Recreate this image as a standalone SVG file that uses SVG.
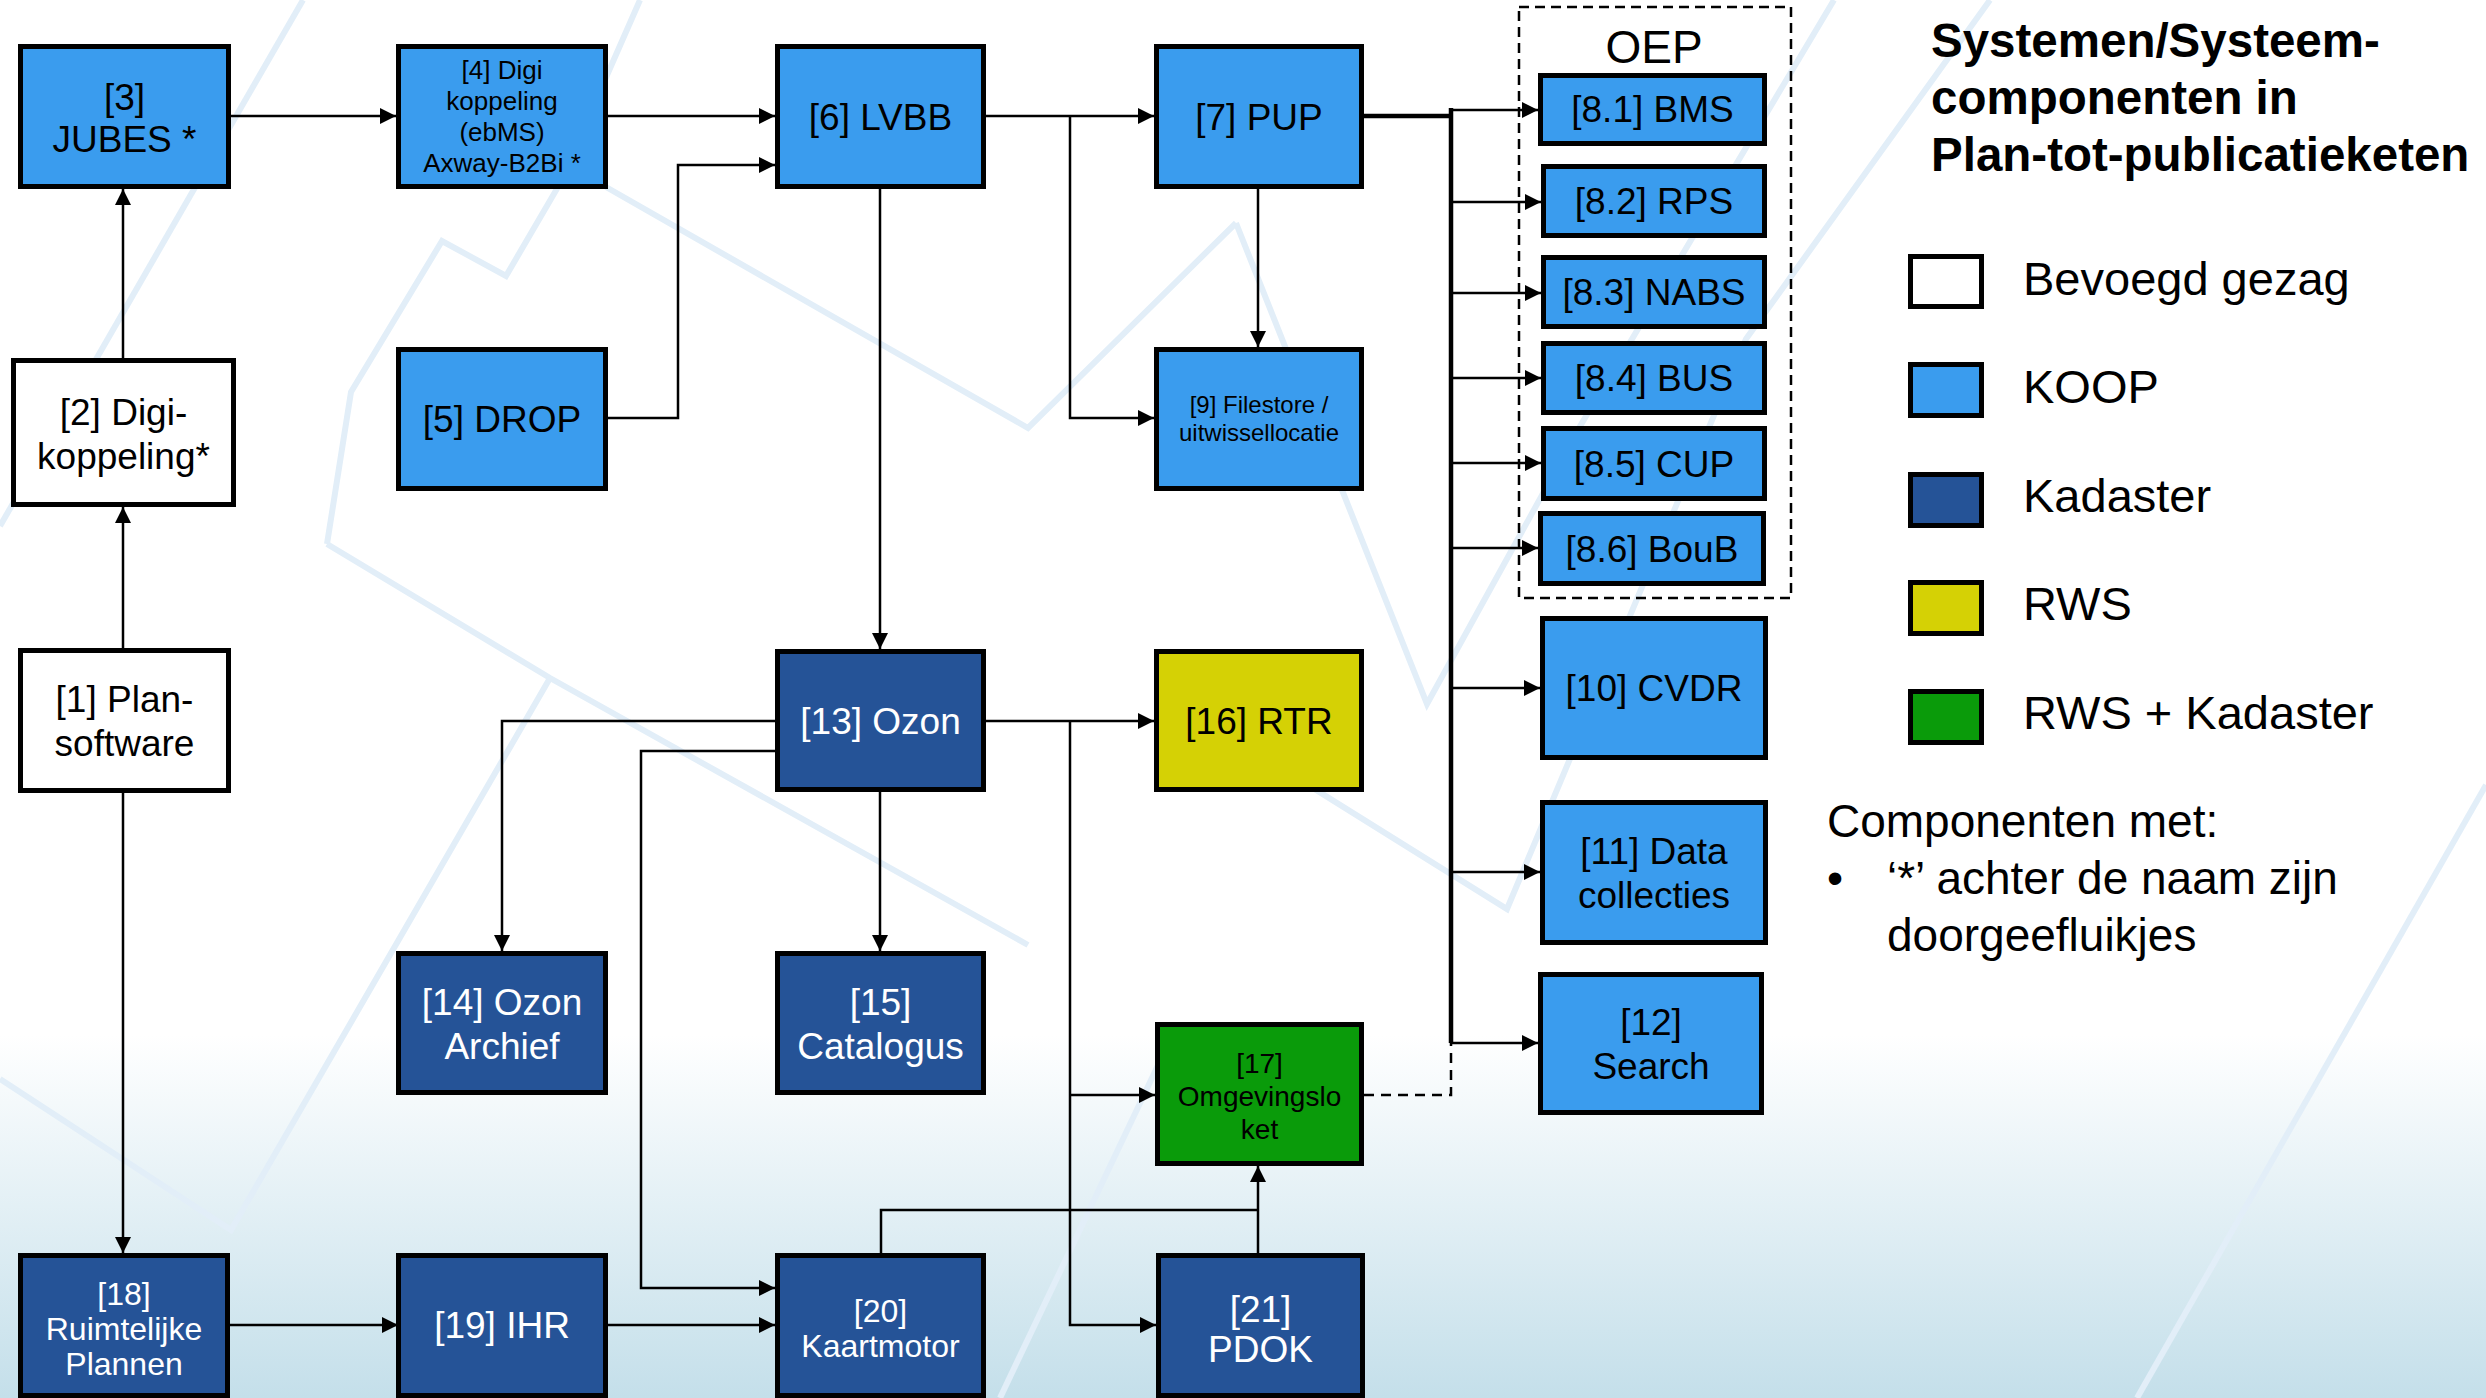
<svg xmlns="http://www.w3.org/2000/svg" width="2486" height="1398" viewBox="0 0 2486 1398">
<defs>
<linearGradient id="bg" x1="0" y1="0" x2="0" y2="1398" gradientUnits="userSpaceOnUse">
<stop offset="0" stop-color="#ffffff"/>
<stop offset="0.74" stop-color="#ffffff"/>
<stop offset="1" stop-color="#c4dfea"/>
</linearGradient>
<marker id="arr" markerUnits="userSpaceOnUse" markerWidth="16" markerHeight="16" viewBox="0 0 16 16" refX="16" refY="8" orient="auto">
<path d="M0,0 L16,8 L0,16 z" fill="#000"/>
</marker>
</defs>
<style>
.box{stroke:#000;stroke-width:5}
.w{fill:#ffffff}
.koop{fill:#3a9cee}
.kad{fill:#255397}
.rws{fill:#d5d105}
.grn{fill:#0a9b0a}
text{font-family:"Liberation Sans",Arial,sans-serif;text-anchor:middle}
.t37{font-size:37px}
.dk{fill:#000}
.lt{fill:#ffffff}
.c{fill:none;stroke:#000;stroke-width:2.5}
.bus{fill:none;stroke:#000;stroke-width:4.5}
.deco{fill:none;stroke:#e2eef8;stroke-width:6;stroke-linejoin:miter}
.leg{font-size:47px;text-anchor:start;fill:#000}
</style>
<rect x="0" y="0" width="2486" height="1398" fill="url(#bg)"/>
<g id="background-lines">
<polyline class="deco" points="303,0 0,526"/>
<polyline class="deco" points="327,544 351,392 442,241 506,276 558,187 640,0"/>
<polyline class="deco" points="606,187 1028,428 1236,223"/>
<polyline class="deco" points="327,544 550,678 1028,945"/>
<polyline class="deco" points="0,1079 231,1230 550,678"/>
<polyline class="deco" points="1236,223 1427,704 1579,428 1834,0"/>
<polyline class="deco" points="1236,740 1507,909 1746,339 1990,0"/>
<polyline class="deco" points="2486,785 2137,1398"/>
<polyline class="deco" points="1170,1040 1000,1398"/>
</g>
<g id="connectors">
<polyline class="c" points="123,358 123,189" marker-end="url(#arr)"/>
<polyline class="c" points="123,648 123,507" marker-end="url(#arr)"/>
<polyline class="c" points="123,793 123,1253" marker-end="url(#arr)"/>
<polyline class="c" points="231,116 396,116" marker-end="url(#arr)"/>
<polyline class="c" points="608,116 775,116" marker-end="url(#arr)"/>
<polyline class="c" points="608,418 678,418 678,165 775,165" marker-end="url(#arr)"/>
<polyline class="c" points="986,116 1154,116" marker-end="url(#arr)"/>
<polyline class="c" points="1070,116 1070,418 1154,418" marker-end="url(#arr)"/>
<polyline class="c" points="1258,189 1258,347" marker-end="url(#arr)"/>
<polyline class="c" points="880,189 880,649" marker-end="url(#arr)"/>
<polyline class="bus" points="1364,116 1451,116"/>
<polyline class="bus" points="1451,108 1451,1043"/>
<polyline class="c" points="1449,110 1538,110" marker-end="url(#arr)"/>
<polyline class="c" points="1451,202 1541,202" marker-end="url(#arr)"/>
<polyline class="c" points="1451,293 1541,293" marker-end="url(#arr)"/>
<polyline class="c" points="1451,378 1541,378" marker-end="url(#arr)"/>
<polyline class="c" points="1451,463 1541,463" marker-end="url(#arr)"/>
<polyline class="c" points="1451,548 1538,548" marker-end="url(#arr)"/>
<polyline class="c" points="1451,688 1540,688" marker-end="url(#arr)"/>
<polyline class="c" points="1451,872 1540,872" marker-end="url(#arr)"/>
<polyline class="c" points="1451,1043 1538,1043" marker-end="url(#arr)"/>
<polyline class="c" points="986,721 1154,721" marker-end="url(#arr)"/>
<polyline class="c" points="775,721 502,721 502,951" marker-end="url(#arr)"/>
<polyline class="c" points="775,751 641,751 641,1288 775,1288" marker-end="url(#arr)"/>
<polyline class="c" points="880,792 880,951" marker-end="url(#arr)"/>
<polyline class="c" points="1070,721 1070,1325 1156,1325" marker-end="url(#arr)"/>
<polyline class="c" points="1070,1095 1155,1095" marker-end="url(#arr)"/>
<polyline class="c" points="1364,1095 1451,1095 1451,1043" stroke-dasharray="10,7"/>
<polyline class="c" points="881,1253 881,1210 1258,1210"/>
<polyline class="c" points="1258,1253 1258,1166" marker-end="url(#arr)"/>
<polyline class="c" points="230,1325 398,1325" marker-end="url(#arr)"/>
<polyline class="c" points="608,1325 775,1325" marker-end="url(#arr)"/>
</g>
<g id="oep">
<rect x="1519" y="7" width="272" height="591" fill="none" stroke="#000" stroke-width="2.5" stroke-dasharray="10,6"/>
<text x="1654" y="63" style="font-size:46px" class="dk">OEP</text>
</g>
<g id="n3"><rect class="box koop" x="20.5" y="46.5" width="208" height="140"/>
<text class="t37 dk" x="124.5" y="110">[3]</text><text class="t37 dk" x="124.5" y="152">JUBES *</text></g>
<g id="n4"><rect class="box koop" x="398.5" y="46.5" width="207" height="140"/>
<g class="dk" style="font-size:26px"><text x="502" y="79">[4] Digi</text><text x="502" y="110">koppeling</text><text x="502" y="141">(ebMS)</text><text x="502" y="172">Axway-B2Bi *</text></g></g>
<g id="n6"><rect class="box koop" x="777.5" y="46.5" width="206" height="140"/>
<text class="t37 dk" x="880.5" y="130">[6] LVBB</text></g>
<g id="n7"><rect class="box koop" x="1156.5" y="46.5" width="205" height="140"/>
<text class="t37 dk" x="1259" y="130">[7] PUP</text></g>
<g id="n8-1"><rect class="box koop" x="1540.5" y="75.5" width="224" height="68"/>
<text class="t37 dk" x="1652.5" y="122">[8.1] BMS</text></g>
<g id="n8-2"><rect class="box koop" x="1543.5" y="166.5" width="221" height="69"/>
<text class="t37 dk" x="1654" y="214">[8.2] RPS</text></g>
<g id="n8-3"><rect class="box koop" x="1543.5" y="257.5" width="221" height="69"/>
<text class="t37 dk" x="1654" y="305">[8.3] NABS</text></g>
<g id="n8-4"><rect class="box koop" x="1543.5" y="343.5" width="221" height="69"/>
<text class="t37 dk" x="1654" y="391">[8.4] BUS</text></g>
<g id="n8-5"><rect class="box koop" x="1543.5" y="428.5" width="221" height="70"/>
<text class="t37 dk" x="1654" y="477">[8.5] CUP</text></g>
<g id="n8-6"><rect class="box koop" x="1540.5" y="513.5" width="223" height="70"/>
<text class="t37 dk" x="1652" y="562">[8.6] BouB</text></g>
<g id="n2"><rect class="box w" x="13.5" y="360.5" width="220" height="144"/>
<text class="t37 dk" x="123.5" y="425">[2] Digi-</text><text class="t37 dk" x="123.5" y="469">koppeling*</text></g>
<g id="n5"><rect class="box koop" x="398.5" y="349.5" width="207" height="139"/>
<text class="t37 dk" x="502" y="432">[5] DROP</text></g>
<g id="n9"><rect class="box koop" x="1156.5" y="349.5" width="205" height="139"/>
<g class="dk" style="font-size:24px"><text x="1259" y="413">[9] Filestore /</text><text x="1259" y="441">uitwissellocatie</text></g></g>
<g id="n1"><rect class="box w" x="20.5" y="650.5" width="208" height="140"/>
<text class="t37 dk" x="124.5" y="712">[1] Plan-</text><text class="t37 dk" x="124.5" y="756">software</text></g>
<g id="n13"><rect class="box kad" x="777.5" y="651.5" width="206" height="138"/>
<text class="t37 lt" x="880.5" y="734">[13] Ozon</text></g>
<g id="n16"><rect class="box rws" x="1156.5" y="651.5" width="205" height="138"/>
<text class="t37 dk" x="1259" y="734">[16] RTR</text></g>
<g id="n10"><rect class="box koop" x="1542.5" y="618.5" width="223" height="139"/>
<text class="t37 dk" x="1654" y="701">[10] CVDR</text></g>
<g id="n11"><rect class="box koop" x="1542.5" y="802.5" width="223" height="140"/>
<text class="t37 dk" x="1654" y="864">[11] Data</text><text class="t37 dk" x="1654" y="908">collecties</text></g>
<g id="n12"><rect class="box koop" x="1540.5" y="974.5" width="221" height="138"/>
<text class="t37 dk" x="1651" y="1035">[12]</text><text class="t37 dk" x="1651" y="1079">Search</text></g>
<g id="n14"><rect class="box kad" x="398.5" y="953.5" width="207" height="139"/>
<text class="t37 lt" x="502" y="1015">[14] Ozon</text><text class="t37 lt" x="502" y="1059">Archief</text></g>
<g id="n15"><rect class="box kad" x="777.5" y="953.5" width="206" height="139"/>
<text class="t37 lt" x="880.5" y="1015">[15]</text><text class="t37 lt" x="880.5" y="1059">Catalogus</text></g>
<g id="n17"><rect class="box grn" x="1157.5" y="1024.5" width="204" height="139"/>
<g class="dk" style="font-size:28px"><text x="1259.5" y="1073">[17]</text><text x="1259.5" y="1106">Omgevingslo</text><text x="1259.5" y="1139">ket</text></g></g>
<g id="n18"><rect class="box kad" x="20.5" y="1255.5" width="207" height="140"/>
<g class="lt" style="font-size:32px"><text x="124" y="1305">[18]</text><text x="124" y="1340">Ruimtelijke</text><text x="124" y="1375">Plannen</text></g></g>
<g id="n19"><rect class="box kad" x="398.5" y="1255.5" width="207" height="140"/>
<text class="t37 lt" x="502" y="1338">[19] IHR</text></g>
<g id="n20"><rect class="box kad" x="777.5" y="1255.5" width="206" height="140"/>
<g class="lt" style="font-size:32px"><text x="880.5" y="1322">[20]</text><text x="880.5" y="1357">Kaartmotor</text></g></g>
<g id="n21"><rect class="box kad" x="1158.5" y="1255.5" width="204" height="140"/>
<text class="t37 lt" x="1260.5" y="1322">[21]</text><text class="t37 lt" x="1260.5" y="1362">PDOK</text></g>
<g id="legend">
<g style="font-size:47.5px;font-weight:bold" class="dk">
<text x="1931" y="57" style="text-anchor:start">Systemen/Systeem-</text>
<text x="1931" y="114" style="text-anchor:start">componenten in</text>
<text x="1931" y="171" style="text-anchor:start">Plan-tot-publicatieketen</text>
</g>
<rect class="box w" x="1910.5" y="256.5" width="71" height="50"/>
<rect class="box koop" x="1910.5" y="364.5" width="71" height="51"/>
<rect class="box kad" x="1910.5" y="474.5" width="71" height="51"/>
<rect class="box rws" x="1910.5" y="582.5" width="71" height="51"/>
<rect class="box grn" x="1910.5" y="691.5" width="71" height="51"/>
<text class="leg" x="2023" y="295">Bevoegd gezag</text>
<text class="leg" x="2023" y="403">KOOP</text>
<text class="leg" x="2023" y="512">Kadaster</text>
<text class="leg" x="2023" y="620">RWS</text>
<text class="leg" x="2023" y="729">RWS + Kadaster</text>
<text class="leg" style="font-size:46px" x="1827" y="837">Componenten met:</text>
<text class="leg" style="font-size:46px" x="1827" y="894">•</text>
<text class="leg" style="font-size:46px" x="1887" y="894">‘*’ achter de naam zijn</text>
<text class="leg" style="font-size:46px" x="1887" y="951">doorgeefluikjes</text>
</g>
</svg>
